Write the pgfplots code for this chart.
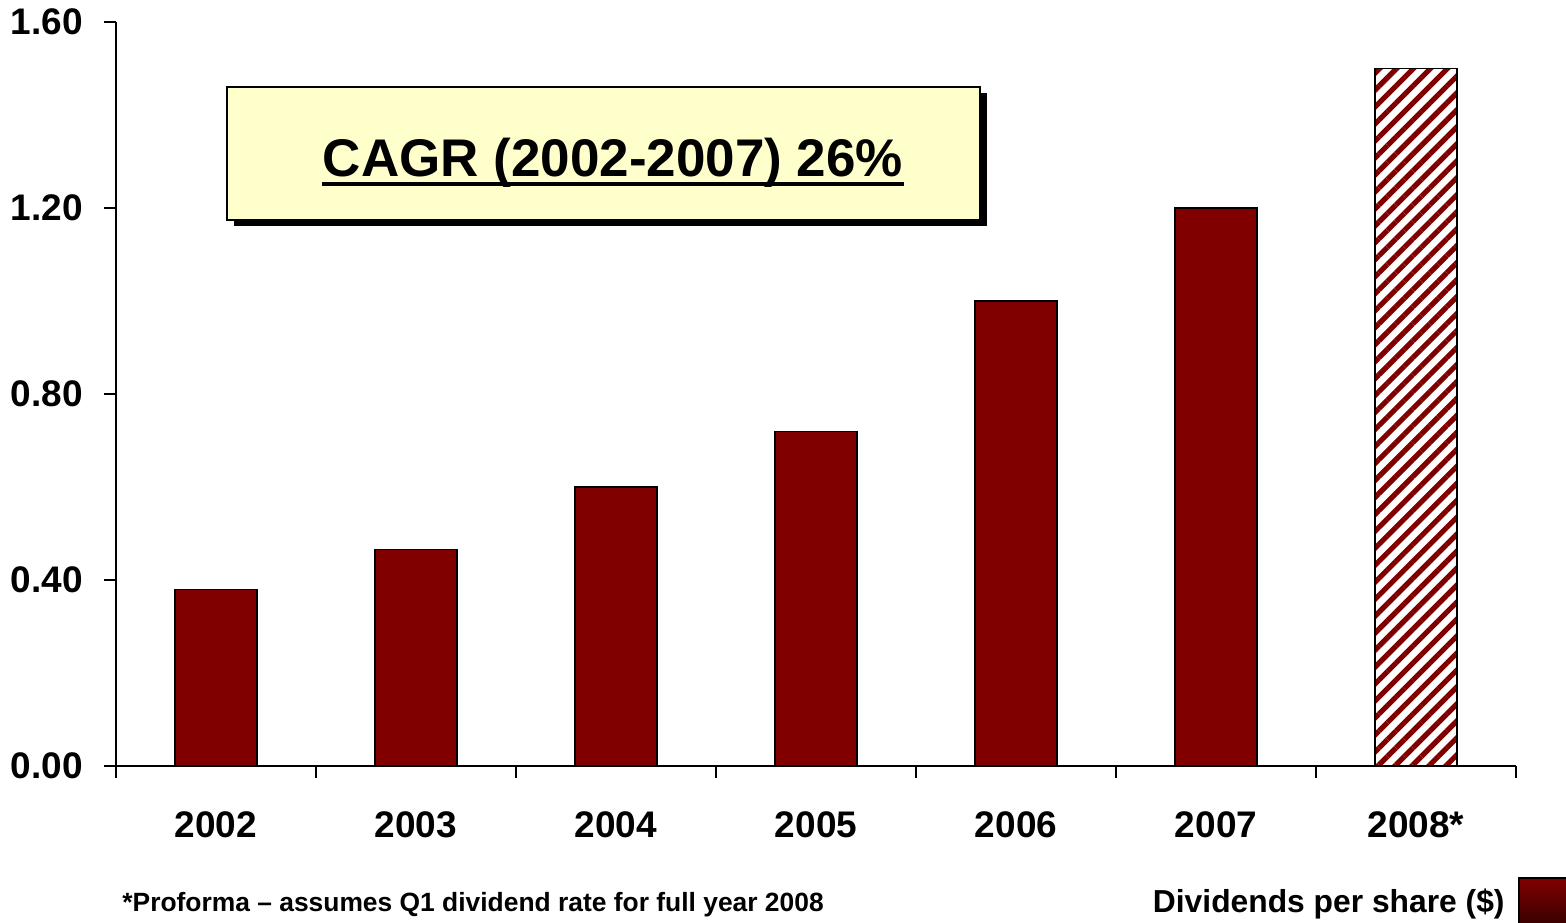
\documentclass[border=0pt]{standalone}
\usepackage{fontspec}
\setmainfont{Liberation Sans}
\usepackage{pgfplots}
\pgfplotsset{compat=1.18}
\usetikzlibrary{patterns.meta}
\definecolor{maroon}{HTML}{800000}
\definecolor{cagrfill}{HTML}{FFFFCC}
\begin{document}
\begin{tikzpicture}[x=1pt,y=1pt]
\useasboundingbox (0,0) rectangle (783,461);
\begin{axis}[
  at={(58pt,78pt)}, anchor=south west,
  scale only axis, width=700pt, height=372pt,
  xmin=-0.5, xmax=6.5, ymin=0, ymax=1.6,
  axis x line*=bottom, axis y line*=left,
  axis line style={line width=0.6pt, -},
  xtick={-0.5,0.5,1.5,2.5,3.5,4.5,5.5,6.5},
  x tick label as interval,
  xticklabels={2002,2003,2004,2005,2006,2007,2008*},
  ytick={0,0.4,0.8,1.2,1.6},
  tick align=outside,
  major tick length=6pt,
  tick style={line width=0.6pt, black},
  ticklabel style={font=\fontsize{18.5}{22}\selectfont\bfseries},
  /pgf/number format/assume math mode=true,
  yticklabel style={xshift=-7pt, /pgf/number format/.cd, fixed, fixed zerofill, precision=2},
  xticklabel style={yshift=-13.5pt},
  clip=false,
]
\addplot[ybar, bar width=0.41, bar shift=0pt, fill=maroon, draw=black, line width=0.7pt]
  coordinates {(0,0.38) (1,0.465) (2,0.60) (3,0.72) (4,1.00) (5,1.20)};
\addplot[ybar, bar width=0.41, bar shift=0pt, draw=black, line width=0.7pt,
  pattern={Lines[angle=45,distance=6pt,line width=2.6pt]}, pattern color=maroon]
  coordinates {(6,1.50)};
\end{axis}
% CAGR box
\fill[black] (117,348) rectangle (493.5,414.5);
\draw[line width=1pt, fill=cagrfill] (113.5,351) rectangle (490,417.5);
\node[anchor=base, inner sep=0pt, font=\fontsize{26.5}{30}\selectfont\bfseries] at (306.5,372.5) {CAGR (2002-2007) 26\%};
\draw[line width=2pt] (161,369.2) -- (452,369.2);
% footnote
\node[anchor=base west, inner sep=0pt, font=\fontsize{13.2}{15}\selectfont\bfseries] at (61,5.5) {*Proforma – assumes Q1 dividend rate for full year 2008};
% legend
\node[anchor=base east, inner sep=0pt, font=\fontsize{15.9}{18}\selectfont\bfseries] at (752.5,5) {Dividends per share (\$)};
\shade[top color=maroon, bottom color=black, draw=black, line width=0.8pt] (759.5,-20) rectangle (800,22);
\end{tikzpicture}
\end{document}
